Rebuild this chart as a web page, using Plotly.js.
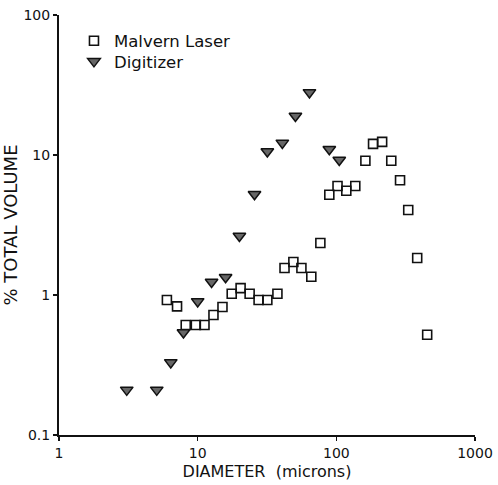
<!DOCTYPE html>
<html>
<head>
<meta charset="utf-8">
<script src="https://cdn.plot.ly/plotly-3.0.1.min.js"></script>
<style>html,body{margin:0;padding:0;background:#fff;}#chart{width:498px;height:485px;}</style>
</head>
<body>
<div id="chart"></div>
<script>
const malvernDiameter = [6.0, 7.1, 8.2, 9.7, 11.2, 13.0, 15.1, 17.6, 20.4, 23.7, 27.5, 31.8, 37.6, 42.3, 49, 56, 66, 76.7, 89, 102, 118, 137, 162, 184, 214, 249, 288, 330, 383, 452];
const malvernVolume   = [0.92, 0.83, 0.61, 0.61, 0.61, 0.72, 0.82, 1.02, 1.12, 1.02, 0.92, 0.92, 1.02, 1.56, 1.72, 1.56, 1.35, 2.35, 5.2, 6.0, 5.55, 6.0, 9.1, 12.0, 12.4, 9.1, 6.6, 4.05, 1.84, 0.52];
const digitizerDiameter = [3.08, 5.07, 6.4, 7.9, 10.0, 12.6, 15.9, 20.0, 25.7, 31.8, 40.8, 50.7, 64, 89, 105];
const digitizerVolume   = [0.21, 0.21, 0.33, 0.54, 0.9, 1.24, 1.34, 2.64, 5.25, 10.6, 12.2, 19.0, 28.0, 11.0, 9.2];
const tickVals = [0.1, 1, 10, 100, 1000];
const tickText = ['0.1', '1', '10', '100', '1000'];

const FONT = '"DejaVu Sans", sans-serif';

const traces = [
  {
    x: malvernDiameter, y: malvernVolume, name: 'Malvern Laser',
    type: 'scatter', mode: 'markers', legend: 'legend',
    marker: {symbol: 'square-open', size: 9, color: '#111', line: {width: 1.6, color: '#111'}}
  },
  {
    x: digitizerDiameter, y: digitizerVolume, name: 'Digitizer',
    type: 'scatter', mode: 'markers', legend: 'legend2',
    marker: {symbol: 'triangle-down', size: 11, color: '#666', line: {width: 1.5, color: '#111'}}
  }
];

const legendCommon = {xanchor: 'left', yanchor: 'middle', bgcolor: 'rgba(0,0,0,0)',
  font: {size: 16.5, family: FONT, color: '#111'}, itemwidth: 30};

const layout = {
  width: 498, height: 485,
  margin: {l: 59, r: 23, t: 15, b: 50},
  paper_bgcolor: '#fff', plot_bgcolor: '#fff',
  font: {family: FONT, color: '#111', size: 14},
  showlegend: true,
  legend: Object.assign({x: 0.036, y: 0.938}, legendCommon),
  legend2: Object.assign({x: 0.036, y: 0.889}, legendCommon),
  xaxis: {
    type: 'log', range: [0, 3], tickvals: tickVals, ticktext: tickText,
    showgrid: false, zeroline: false, showline: true, linecolor: '#111', linewidth: 2,
    ticks: 'outside', ticklen: 4, tickwidth: 1.5, tickcolor: '#111',
    tickfont: {size: 14, family: FONT},
    title: {text: 'DIAMETER&nbsp;&nbsp;(microns)', font: {size: 16, family: FONT}, standoff: 6}
  },
  yaxis: {
    type: 'log', range: [-1, 2], tickvals: tickVals, ticktext: tickText,
    showgrid: false, zeroline: false, showline: true, linecolor: '#111', linewidth: 2,
    ticks: 'outside', ticklen: 4, tickwidth: 1.5, tickcolor: '#111',
    tickfont: {size: 14, family: FONT},
    title: {text: '% TOTAL VOLUME', font: {size: 18, family: FONT}, standoff: 4}
  }
};

Plotly.newPlot('chart', traces, layout, {staticPlot: true, displayModeBar: false});
</script>
</body>
</html>
